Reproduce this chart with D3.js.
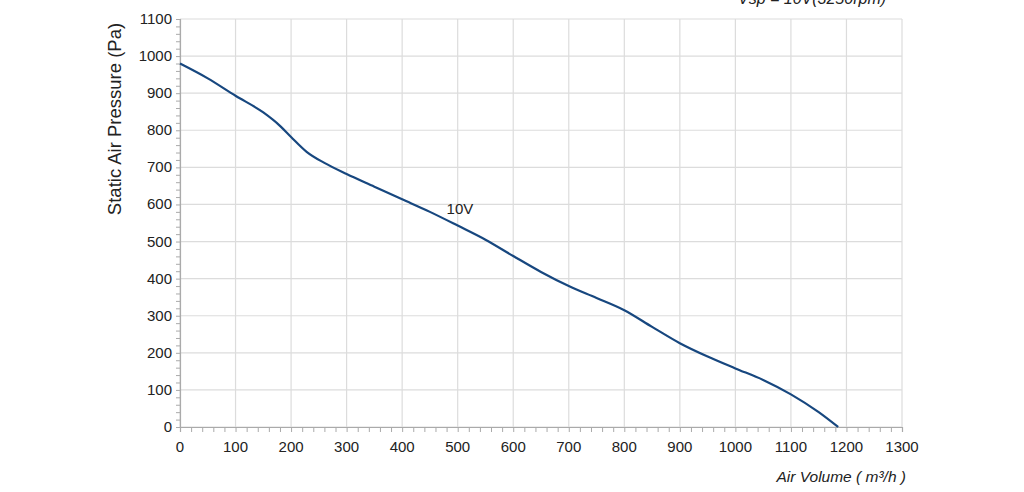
<!DOCTYPE html>
<html>
<head>
<meta charset="utf-8">
<script src="https://cdn.jsdelivr.net/npm/d3@7"></script>
<style>
    body { margin: 0; background: #fff; }
    text { font-family: "Liberation Sans", Arial, sans-serif; fill: #222; }
</style>
</head>
<body>
<script>
(function(){

    //curve data
    var airVolume = [0, 50, 100, 150, 180, 200, 228, 260, 300, 350, 400, 450, 500, 550, 600, 650, 700, 750, 800, 850, 900, 950, 1000, 1050, 1100, 1150, 1185];
    var pressure  = [980, 940, 893, 848, 812, 782, 742, 712, 682, 648, 614, 580, 543, 505, 461, 418, 380, 348, 315, 270, 226, 190, 158, 127, 88, 40, 0];
    var xTicks = [0, 100, 200, 300, 400, 500, 600, 700, 800, 900, 1000, 1100, 1200, 1300];
    var yTicks = [0, 100, 200, 300, 400, 500, 600, 700, 800, 900, 1000, 1100];
    var curveLabel = "10V";
    var title = "Vsp = 10V(3250rpm)";

    window.onload = drawChart();

    function drawChart(){
        var width = 1024, height = 492;
        var margin = {left: 180, top: 19, right: 122, bottom: 65};
        var w = width - margin.left - margin.right,
            h = height - margin.top - margin.bottom;

        var svg = d3.select("body")
            .append("svg")
            .attr("width", width)
            .attr("height", height);

        var x = d3.scaleLinear().domain([0, 1300]).range([0, w]);
        var y = d3.scaleLinear().domain([0, 1100]).range([h, 0]);

        var g = svg.append("g")
            .attr("transform", "translate(" + margin.left + "," + margin.top + ")");

        //grid lines
        g.selectAll(".vgrid")
            .data(xTicks)
            .enter()
            .append("line")
            .attr("x1", function(d){ return x(d); })
            .attr("x2", function(d){ return x(d); })
            .attr("y1", 0).attr("y2", h)
            .attr("stroke", "#dcdcdc").attr("stroke-width", 1.2);
        g.selectAll(".hgrid")
            .data(yTicks)
            .enter()
            .append("line")
            .attr("x1", 0).attr("x2", w)
            .attr("y1", function(d){ return y(d); })
            .attr("y2", function(d){ return y(d); })
            .attr("stroke", "#dcdcdc").attr("stroke-width", 1.2);

        //minor ticks
        var xAxis = g.append("g")
            .attr("transform", "translate(0," + h + ")")
            .call(d3.axisBottom(x).ticks(65).tickSize(5).tickFormat(""));
        var yAxis = g.append("g")
            .call(d3.axisLeft(y).ticks(55).tickSize(4).tickFormat(""));
        [xAxis, yAxis].forEach(function(a){
            a.selectAll("line").attr("stroke", "#aaa");
            a.select(".domain").attr("stroke", "#aaa").attr("stroke-width", 1.2);
        });

        //tick labels
        g.selectAll(".xlab")
            .data(xTicks)
            .enter()
            .append("text")
            .attr("x", function(d){ return x(d); })
            .attr("y", h + 25)
            .attr("text-anchor", "middle")
            .style("font-size", "15px")
            .text(function(d){ return d; });
        g.selectAll(".ylab")
            .data(yTicks)
            .enter()
            .append("text")
            .attr("x", -8)
            .attr("y", function(d){ return y(d) + 5; })
            .attr("text-anchor", "end")
            .style("font-size", "15px")
            .text(function(d){ return d; });

        //the curve
        var pts = airVolume.map(function(v, i){ return [v, pressure[i]]; });
        var line = d3.line()
            .x(function(d){ return x(d[0]); })
            .y(function(d){ return y(d[1]); })
            .curve(d3.curveMonotoneX);
        g.append("path")
            .datum(pts)
            .attr("d", line)
            .attr("fill", "none")
            .attr("stroke", "#17477f")
            .attr("stroke-width", 2.2);

        g.append("text")
            .attr("x", x(480))
            .attr("y", y(573))
            .style("font-size", "15px")
            .text(curveLabel);

        //axis titles
        svg.append("text")
            .attr("transform", "translate(121,119) rotate(-90)")
            .attr("text-anchor", "middle")
            .style("font-size", "18.5px")
            .text("Static Air Pressure  (Pa)");
        svg.append("text")
            .attr("x", 906)
            .attr("y", 482)
            .attr("text-anchor", "end")
            .style("font-size", "15.5px")
            .style("font-style", "italic")
            .text("Air Volume ( m³/h )");
        svg.append("text")
            .attr("x", 812)
            .attr("y", 4)
            .attr("text-anchor", "middle")
            .style("font-size", "16px")
            .style("font-style", "italic")
            .text(title);
    };

})();
</script>
</body>
</html>
